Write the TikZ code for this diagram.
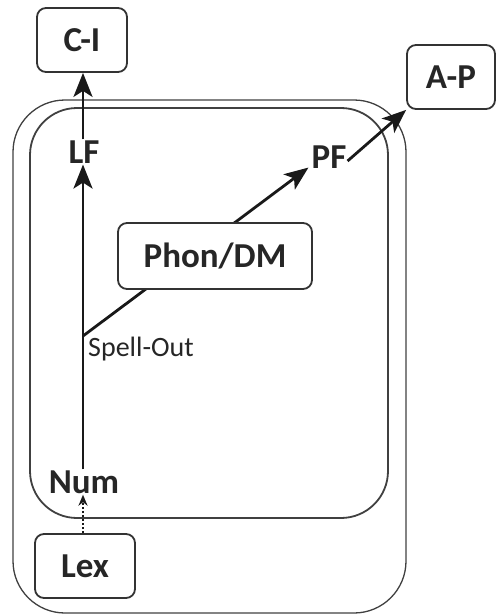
\documentclass[tikz,border=0pt]{standalone}
\usepackage{fontspec}
\setmainfont{Carlito}
\usetikzlibrary{arrows.meta}
\begin{document}
\begin{tikzpicture}[x=1pt,y=-1pt,
  lbl/.style={font=\fontsize{35}{40}\selectfont\bfseries, text=black!85, inner sep=1pt},
  boxnode/.style={lbl, draw=black!80, line width=1.8pt, rounded corners=9pt, inner sep=0pt},
  conn/.style={line width=2.8pt, draw=black!90, -{Stealth[length=24pt,width=19pt,inset=6pt]}},
  frame/.style={draw=black!75, line width=1.3pt}
]
\useasboundingbox (0,0) rectangle (497,615);
% frames
\draw[frame, rounded corners=52pt] (13,100) rectangle (406,613);
\draw[frame, line width=1.8pt, rounded corners=47pt] (30,108) rectangle (388,518);
% boxes and labels
\node[boxnode, minimum width=90pt, minimum height=64pt] (ci) at (82,40) {C-I};
\node[boxnode, minimum width=88pt, minimum height=64pt] (ap) at (451,77) {A-P};
\node[boxnode, minimum width=100pt, minimum height=64pt] (lex) at (85,566) {Lex};
\node[lbl] (lf) at (84,152) {LF};
\node[lbl] (pf) at (329,157) {PF};
\node[lbl] (num) at (84,482) {Num};
\coordinate (so) at (83,336);
\node[font=\fontsize{28}{32}\selectfont, text=black!85, anchor=west, inner sep=0pt] (sotext) at (88,349) {Spell-Out};
% connectors
\draw[conn] (so) -- ([xshift=-2pt,yshift=2pt]pf.south west);
\node[boxnode, fill=white, minimum width=194pt, minimum height=66pt] (phon) at (215,256) {Phon/DM};
\draw[conn] (num.north -| so) -- (lf.south -| so);
\draw[conn] (lf.north -| so) -- (ci.south -| so);
\draw[conn] ([yshift=-4pt]pf.east) -- (ap.south west);
\draw[line width=2pt, draw=black!90, dotted, -{Stealth[length=11pt,width=9pt]}] (lex.north -| so) -- (num.south -| so);
\end{tikzpicture}
\end{document}
